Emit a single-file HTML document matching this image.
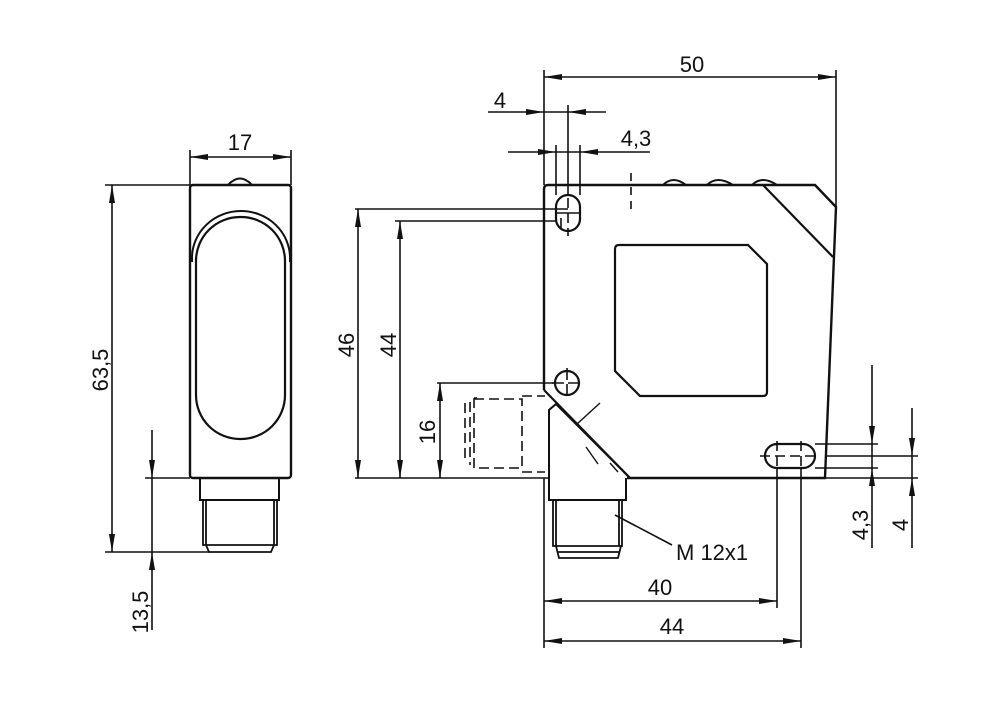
<!DOCTYPE html>
<html><head><meta charset="utf-8"><style>
html,body{margin:0;padding:0;background:#fff}
svg{display:block}
text{font-family:"Liberation Sans",sans-serif;font-size:22px;fill:#111}
</style></head><body>
<svg width="1000" height="703" viewBox="0 0 1000 703" xmlns="http://www.w3.org/2000/svg">
<defs>
<marker id="a" markerUnits="userSpaceOnUse" markerWidth="20" markerHeight="8" refX="18" refY="4" orient="auto"><path d="M0,1 L18,4 L0,7 Z" fill="#111"/></marker>
</defs>
<g fill="none" stroke="#111" stroke-width="1.6">
<!-- LEFT VIEW -->
<rect x="190" y="185" width="101" height="293" rx="3" stroke-width="2.4"/>
<path d="M228,185 Q240,172 252,185" stroke-width="2"/>
<path d="M192,262 L192,258 A48,46 0 0 1 290,258 L290,262" stroke-width="2"/>
<rect x="196" y="217" width="89" height="222" rx="44" stroke-width="2.2"/>
<path d="M200,478 V500 H279 V478" stroke-width="2"/>
<path d="M203,500 V545 H277 V500 M206,500 V545 M274,500 V545" stroke-width="1.8"/>
<path d="M206,545 L209,552 H271 L274,545" stroke-width="1.8"/>
<!-- left dims -->
<path d="M190,185 V150 M291,185 V150"/>
<path d="M240,157 H190" marker-end="url(#a)"/><path d="M240,157 H291" marker-end="url(#a)"/>
<path d="M105,185 H190 M105,552 H210 M145,478 H190"/>
<path d="M112,370 V185" marker-end="url(#a)"/><path d="M112,370 V552" marker-end="url(#a)"/>
<path d="M152,430 V478" marker-end="url(#a)"/><path d="M152,630 V552" marker-end="url(#a)"/>
<path d="M152,478 V552"/>

<!-- RIGHT VIEW body -->
<path d="M544,390 V189 Q544,185 548,185 H815 L836,207 L825,478 H627" stroke-width="2.4"/>
<path d="M763,185 L833,257" stroke-width="2.2"/>
<path d="M544,390 L630,478" stroke-width="2.2"/>
<path d="M663,185 Q673,175 686,185 M707,185 Q717,175 733,185 M752,185 Q762,175 777,185" stroke-width="2"/>
<path d="M619,245 H748 L767,264 V392 Q767,396 763,396 H640 L615,371 V249 Q615,245 619,245 Z" stroke-width="2.2"/>
<!-- holes -->
<rect x="556" y="195" width="24" height="36" rx="12" stroke-width="2.2"/>
<circle cx="567" cy="383" r="12" stroke-width="2.2"/>
<rect x="765" y="444" width="50" height="24" rx="12" stroke-width="2.2"/>
<!-- connector right -->
<path d="M549,478 V410 L556,404 L630,478" stroke-width="2"/>
<path d="M549,478 V500 H626 V478" stroke-width="2"/>
<path d="M553,500 V546 H622 V500 M556,500 V546 M619,500 V546" stroke-width="1.8"/>
<path d="M556,546 L559,558 H618 L621,546 M557,552 H620" stroke-width="1.8"/>
<path d="M577,424 L600,403 M586,447 L598,464 M610,463 L618,472" stroke-width="1.4"/>
<!-- dashed hidden -->
<g stroke-dasharray="10,5" stroke-width="1.6">
<rect x="474" y="399" width="48" height="69"/>
<path d="M470,402 V465 M465,403 V463 M522,396 H545 M522,472 H545 M477,398 H474"/>
<path d="M631,173 V215" stroke-dasharray="8,6"/>
<path d="M568,198 V236 M555,213 H582 M571,213 H561 V230"/>
<path d="M567,368 V398 M552,383 H582" stroke-dasharray="12,4"/>
<path d="M760,456 H820 M777,441 V471 M801,441 V471"/>
</g>
<!-- right dims -->
<path d="M544,70 V185 M836,70 V207"/>
<path d="M690,77 H544" marker-end="url(#a)"/><path d="M690,77 H836" marker-end="url(#a)"/>
<path d="M568,105 V195 M556,145 V195 M580,145 V195"/>
<path d="M488,112 H544" marker-end="url(#a)"/><path d="M606,112 H568" marker-end="url(#a)"/><path d="M544,112 H568"/>
<path d="M508,152 H556" marker-end="url(#a)"/><path d="M650,152 H580" marker-end="url(#a)"/><path d="M556,152 H580"/>
<path d="M355,209 H568 M395,221 H556 M355,478 H549 M437,383 H555"/>
<path d="M358,345 V209" marker-end="url(#a)"/><path d="M358,345 V478" marker-end="url(#a)"/>
<path d="M400,345 V221" marker-end="url(#a)"/><path d="M400,345 V478" marker-end="url(#a)"/>
<path d="M440,430 V383" marker-end="url(#a)"/><path d="M440,430 V478" marker-end="url(#a)"/>
<path d="M544,478 V648 M777,468 V608 M801,468 V648"/>
<path d="M660,601 H544" marker-end="url(#a)"/><path d="M660,601 H777" marker-end="url(#a)"/>
<path d="M672,641 H544" marker-end="url(#a)"/><path d="M672,641 H801" marker-end="url(#a)"/>
<path d="M815,444 H878 M826,456 H918 M815,468 H878 M825,478 H918"/>
<path d="M872,365 V444" marker-end="url(#a)"/><path d="M872,548 V468" marker-end="url(#a)"/><path d="M872,444 V468"/>
<path d="M912,408 V456" marker-end="url(#a)"/><path d="M912,548 V478" marker-end="url(#a)"/><path d="M912,456 V478"/>
<path d="M615,515 L672,545"/>
</g>
<g>
<text x="240" y="150" text-anchor="middle">17</text>
<text transform="translate(108,370) rotate(-90)" text-anchor="middle">63,5</text>
<text transform="translate(148,612) rotate(-90)" text-anchor="middle">13,5</text>
<text x="692" y="72" text-anchor="middle">50</text>
<text x="500" y="108" text-anchor="middle">4</text>
<text x="636" y="146" text-anchor="middle">4,3</text>
<text transform="translate(354,345) rotate(-90)" text-anchor="middle">46</text>
<text transform="translate(396,345) rotate(-90)" text-anchor="middle">44</text>
<text transform="translate(435,432) rotate(-90)" text-anchor="middle">16</text>
<text x="660" y="595" text-anchor="middle">40</text>
<text x="672" y="634" text-anchor="middle">44</text>
<text transform="translate(868,525) rotate(-90)" text-anchor="middle">4,3</text>
<text transform="translate(908,525) rotate(-90)" text-anchor="middle">4</text>
<text x="676" y="560">M 12x1</text>
</g>
</svg>
</body></html>
